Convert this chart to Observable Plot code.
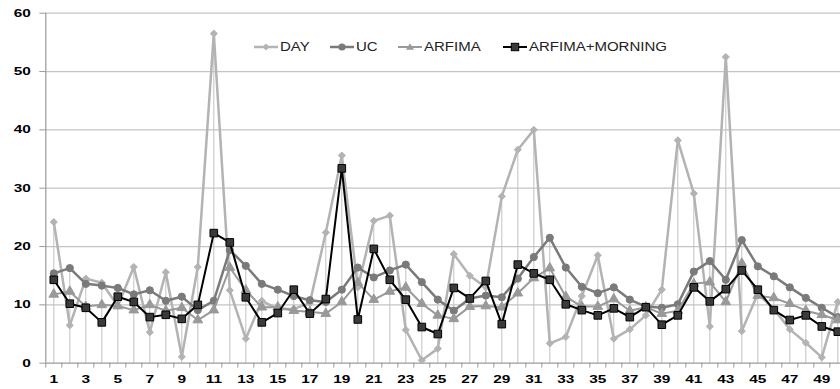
<!DOCTYPE html>
<html>
<head>
<meta charset="utf-8">
<script src="https://cdn.jsdelivr.net/npm/d3@7"></script>
<script src="https://cdn.jsdelivr.net/npm/@observablehq/plot@0.6"></script>
<style>
  body { margin: 0; background: #fff; overflow: hidden; }
  #wrap { position: relative; width: 840px; height: 389px; overflow: hidden; }
  .leg { position: absolute; top: 40px; height: 14px; display: flex; align-items: center;
         font-family: "Liberation Sans", Arial, sans-serif; font-size: 12px; color: #222; white-space: nowrap; }
  .leg span { display: inline-block; transform: scaleX(1.25); transform-origin: left center; margin-left: 2px; }
</style>
</head>
<body>
<div id="wrap"></div>
<script>
// ---- data ----
const periods = d3.range(1, 51);
const xTickLabels = [1,3,5,7,9,11,13,15,17,19,21,23,25,27,29,31,33,35,37,39,41,43,45,47,49];
const yTicks = [0,10,20,30,40,50,60];
const seriesNames = ["DAY", "UC", "ARFIMA", "ARFIMA+MORNING"];

const day = [24.2,6.5,14.5,13.8,9.8,16.5,5.3,15.6,1.1,16.5,
             56.5,12.5,4.2,10.7,9.3,9.3,10.3,22.4,35.6,13.0,
             24.4,25.3,5.7,0.5,2.5,18.7,15.0,13.0,28.6,36.6,
             40.0,3.4,4.5,11.5,18.5,4.2,5.8,8.2,12.6,38.2,
             29.1,6.3,52.5,5.5,11.9,9.3,5.8,3.5,1.0,10.5];
const uc = [15.4,16.3,13.6,13.3,12.9,11.8,12.5,10.7,11.4,9.1,
            10.7,19.4,16.7,13.6,12.6,11.5,10.8,10.5,12.6,16.4,
            14.7,15.9,16.9,13.9,10.9,9.0,11.1,11.6,11.3,14.5,
            18.2,21.5,16.4,13.1,12.0,13.0,10.9,9.7,9.5,10.1,
            15.7,17.5,14.3,21.1,16.6,14.9,13.0,11.2,9.5,7.9];
const arfima = [11.8,12.3,9.7,10.0,9.8,9.1,10.0,9.0,9.5,7.4,
                9.1,16.4,12.5,9.6,9.6,9.0,8.8,8.5,10.5,13.8,
                10.9,12.3,13.0,10.2,8.2,7.6,9.7,9.8,9.6,12.0,
                14.6,16.3,11.4,9.7,9.7,11.0,9.0,9.6,8.5,9.0,
                13.6,13.9,10.5,17.1,11.6,11.2,10.2,9.0,8.3,7.4];
const arfimaMorning = [14.3,10.2,9.5,7.0,11.4,10.5,7.9,8.3,7.6,10.0,
                       22.3,20.7,11.3,7.0,8.6,12.6,8.5,11.0,33.4,7.5,
                       19.6,14.3,10.9,6.2,5.0,12.9,11.1,14.1,6.7,16.9,
                       15.4,14.3,10.1,9.1,8.2,9.4,7.9,9.6,6.6,8.2,
                       13.0,10.6,12.7,15.9,12.6,9.1,7.4,8.2,6.3,5.4];

// ---- styles ----
const styles = [
  {color: "#b3b3b3", width: 2.5, symbol: "diamond2", r: 3.2, fill: "#b3b3b3", stroke: "#b3b3b3"},
  {color: "#7a7a7a", width: 2.5, symbol: "circle", r: 3.6, fill: "#7a7a7a", stroke: "#7a7a7a"},
  {color: "#999999", width: 2, symbol: "triangle", r: 3.6, fill: "#999999", stroke: "#999999"},
  {color: "#000000", width: 2, symbol: "square", r: 4.3, fill: "#3a3a3a", stroke: "#000000"}
];
const allSeries = [day, uc, arfima, arfimaMorning];
const tables = allSeries.map(vals => periods.map((p, i) => ({x: p, y: vals[i]})));
const maxima = periods.map((p, i) => ({x: p, top: d3.max(allSeries, s => s[i])}));
const boundaries = [0].concat(periods).map(p => p + 0.5);

const seriesMarks = [];
tables.forEach((t, k) => {
  const s = styles[k];
  seriesMarks.push(Plot.line(t, {x: "x", y: "y", stroke: s.color, strokeWidth: s.width}));
  seriesMarks.push(Plot.dot(t, {x: "x", y: "y", symbol: () => s.symbol, r: s.r, fill: s.fill, stroke: s.stroke, strokeWidth: 1}));
});

const chart = Plot.plot({
  width: 840, height: 389,
  marginLeft: 45.3, marginRight: -5.3, marginTop: 12.7, marginBottom: 26.3,
  x: {domain: [0.5, 50.5], label: null},
  y: {domain: [0, 60], label: null},
  style: {fontFamily: "Liberation Sans, Arial, sans-serif", fontSize: "11px", fontWeight: "bold", color: "#000", background: "#fff"},
  marks: [
    Plot.ruleY(yTicks.filter(v => v > 0), {stroke: "#c4c4c4", strokeWidth: 1.3}),
    Plot.ruleX(maxima, {x: "x", y1: 0, y2: "top", stroke: "#c2c2c2", strokeWidth: 1}),
    Plot.ruleY([0], {stroke: "#9a9a9a", strokeWidth: 1.2}),
    Plot.ruleX([0.5], {y1: 0, y2: 60, stroke: "#9a9a9a", strokeWidth: 1.2}),
    Plot.axisY({ticks: yTicks, tickSize: 6, tickPadding: 9, stroke: "#9a9a9a", label: null}),
    Plot.axisX({ticks: xTickLabels, tickSize: 0, tickPadding: 12, label: null}),
    Plot.axisX({ticks: boundaries, tickSize: 5, tickFormat: () => "", stroke: "#9a9a9a", label: null}),
    ...seriesMarks
  ]
});

const wrap = document.getElementById("wrap");
wrap.appendChild(chart);
chart.querySelectorAll("text").forEach(t => {
  const w = t.getComputedTextLength();
  if (w > 0) {
    t.setAttribute("textLength", (w * 1.4).toFixed(1));
    t.setAttribute("lengthAdjust", "spacingAndGlyphs");
  }
});

// ---- legend ----
const legendLefts = [254, 330, 398, 503];
seriesNames.forEach((name, k) => {
  const s = styles[k];
  const div = document.createElement("div");
  div.className = "leg";
  div.style.left = legendLefts[k] + "px";
  const sym = s.symbol === "circle" ? `<circle cx="12" cy="7" r="3.6" fill="${s.fill}"/>`
    : s.symbol === "triangle" ? `<path d="M12 3.2 L16 9.8 L8 9.8 Z" fill="${s.fill}"/>`
    : s.symbol === "square" ? `<rect x="8.3" y="3.3" width="7.4" height="7.4" fill="${s.fill}" stroke="#000"/>`
    : `<path d="M12 3.5 L15.5 7 L12 10.5 L8.5 7 Z" fill="${s.fill}"/>`;
  div.innerHTML = `<svg width="24" height="14"><line x1="0" x2="24" y1="7" y2="7" stroke="${s.color}" stroke-width="${s.width}"/>${sym}</svg><span>${name}</span>`;
  wrap.appendChild(div);
});
</script>
</body>
</html>
